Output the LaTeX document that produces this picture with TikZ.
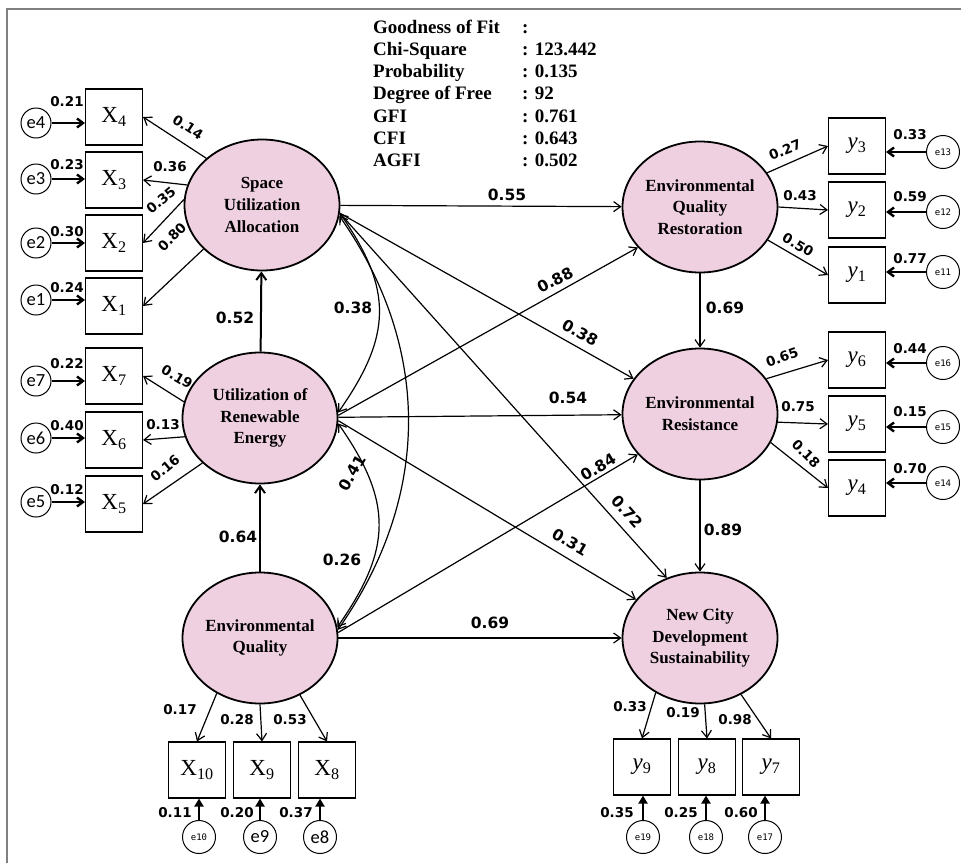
\documentclass[tikz,border=0pt]{standalone}
\usepackage{fontspec}
\setmainfont{Liberation Serif}
\newfontfamily\coeffont{DejaVu Sans}
\newfontfamily\errfont{Carlito}
\newfontfamily\errsmallfont{DejaVu Sans Mono}
\usetikzlibrary{shapes.geometric,arrows.meta}
\definecolor{latentpink}{RGB}{239,208,224}
\definecolor{framegray}{RGB}{128,128,128}
\tikzset{
  latent/.style={ellipse, draw, line width=1.8pt, fill=latentpink,
    minimum width=155pt, minimum height=131pt, inner sep=0pt, align=center,
    font=\fontsize{17}{21.7}\selectfont\bfseries},
  observed/.style={rectangle, draw, line width=1.1pt, minimum width=57pt,
    minimum height=56pt, inner sep=0pt, font=\fontsize{23}{26}\selectfont},
  errvar/.style={circle, draw, line width=1pt, minimum size=30pt, inner sep=0pt,
    font=\errfont\fontsize{18.5}{18.5}\selectfont},
  errvarsmall/.style={errvar, minimum size=33pt,
    font=\errsmallfont\fontsize{9}{9}\selectfont},
  header/.style={anchor=base west, inner sep=0pt,
    font=\fontsize{19}{22}\selectfont\bfseries},
  coef/.style={font=\coeffont\bfseries\fontsize{15.5}{15.5}\selectfont, inner sep=1pt},
  loading/.style={font=\coeffont\bfseries\fontsize{13.5}{13.5}\selectfont, inner sep=0pt},
  regpath/.style={line width=1.2pt, -{Straight Barb[length=7pt,width=10pt]}},
  heavypath/.style={regpath, line width=2pt},
  corrpath/.style={line width=1.2pt,
    {Straight Barb[length=7pt,width=10pt]}-{Straight Barb[length=7pt,width=10pt]}},
  errpath/.style={line width=2.4pt, -{Straight Barb[length=6pt,width=9pt]}},
  errup/.style={line width=2.4pt, -{Triangle[length=8pt,width=9pt]}},
}
\begin{document}
\begin{tikzpicture}[x=1pt,y=-1pt]
	\useasboundingbox (0,0) rectangle (961,863);
	% Rahmen
	\draw[framegray, line width=2pt] (7,863) -- (7,9) -- (961,9);
	% Modellguete
	\foreach \lab/\val [count=\i] in {Goodness of Fit/{}, Chi-Square/123.442,
		Probability/0.135, Degree of Free/92, GFI/0.761, CFI/0.643, AGFI/0.502}
	{
		\node[header] (fitlab\i) at (373, 11+22.2*\i) {\lab};
		\node[header] (fitval\i) at (522, 11+22.2*\i) {: \val};
	}
	% latente Variablen
	\node[latent] (SUA) at (262,205) {Space\\Utilization\\Allocation};
	\node[latent] (URE) at (260,418) {Utilization of\\Renewable\\Energy};
	\node[latent] (EQ) at (260,638) {Environmental\\Quality};
	\node[latent] (EQR) at (700,207) {Environmental\\Quality\\Restoration};
	\node[latent] (ER) at (700,414) {Environmental\\Resistance};
	\node[latent] (NCDS) at (700,638) {New City\\Development\\Sustainability};
	% Indikatoren links
	\foreach \n/\y in {4/117, 3/180, 2/243, 1/306, 7/376, 6/440, 5/504}
		\node[observed] (X\n) at (114,\y) {X\textsubscript{\n}};
	\foreach \n/\y/\v/\ly in {4/123/0.21/102, 3/179/0.23/165, 2/243/0.30/232,
		1/300/0.24/288, 7/381/0.22/364, 6/438/0.40/426, 5/502/0.12/490}
	{
		\node[errvar] (e\n) at (36,\y) {e\n};
		\draw[errpath] (e\n) -- (e\n -| X\n.west);
		\node[loading] (le\n) at (67,\ly) {\v};
	}
	% Indikatoren rechts
	\foreach \n/\y in {3/146, 2/210, 1/275, 6/360, 5/424, 4/488}
		\node[observed] (y\n) at (857,\y) {\textit{y}\textsubscript{\n}};
	\foreach \n/\e/\y/\v/\ly in {3/13/152/0.33/135, 2/12/212/0.59/197,
		1/11/272/0.77/259, 6/16/363/0.44/349, 5/15/427/0.15/412, 4/14/483/0.70/469}
	{
		\node[errvarsmall] (e\e) at (943,\y) {e\e};
		\draw[errpath] (e\e) -- (e\e -| y\n.east);
		\node[loading] (le\e) at (910,\ly) {\v};
	}
	% Indikatoren unten
	\node[observed] (X10) at (197,770) {X\textsubscript{10}};
	\node[observed] (X9) at (262,770) {X\textsubscript{9}};
	\node[observed] (X8) at (327,770) {X\textsubscript{8}};
	\node[observed] (y9) at (642,767) {\textit{y}\textsubscript{9}};
	\node[observed] (y8) at (707,767) {\textit{y}\textsubscript{8}};
	\node[observed] (y7) at (771,767) {\textit{y}\textsubscript{7}};
	\node[errvarsmall] (e10) at (199,837) {e10};
	\node[errvar, minimum size=33pt] (e9) at (260,837) {e9};
	\node[errvar, minimum size=33pt] (e8) at (320,837) {e8};
	\node[errvarsmall] (e19) at (643,837) {e19};
	\node[errvarsmall] (e18) at (706,837) {e18};
	\node[errvarsmall] (e17) at (765,837) {e17};
	\foreach \e/\b/\v/\lx in {e10/X10/0.11/175, e9/X9/0.20/237, e8/X8/0.37/296,
		e19/y9/0.35/617, e18/y8/0.25/681, e17/y7/0.60/741}
	{
		\draw[errup] (\e) -- (\e |- \b.south);
		\node[loading] (l\e) at (\lx,813) {\v};
	}
	% Ladungen
	\draw[regpath] (SUA.140) -- (X4.east);
	\draw[regpath] (SUA.165) -- (X3.east);
	\draw[regpath] (SUA.176) -- (X2.east);
	\draw[regpath] (SUA.217) -- (X1.east);
	\node[loading, rotate=-33] (lX4) at (188,127) {0.14};
	\node[loading] (lX3) at (170,167) {0.36};
	\node[loading, rotate=40] (lX2) at (161,200) {0.35};
	\node[loading, rotate=45] (lX1) at (172,237) {0.80};
	\draw[regpath] (URE.168) -- (X7.east);
	\draw[regpath] (URE.194) -- (X6.east);
	\draw[regpath] (URE.218) -- (X5.east);
	\node[loading, rotate=-30] (lX7) at (177,377) {0.19};
	\node[loading] (lX6) at (163,425) {0.13};
	\node[loading, rotate=40] (lX5) at (165,468) {0.16};
	\draw[regpath] (EQ.232) -- (X10.north);
	\draw[regpath] (EQ.270) -- (X9.north);
	\draw[regpath] (EQ.305) -- (X8.north);
	\node[loading] (lX10) at (180,710) {0.17};
	\node[loading] (lX9) at (237,720) {0.28};
	\node[loading] (lX8) at (290,720) {0.53};
	\draw[regpath] (EQR.27) -- (y3.west);
	\draw[regpath] (EQR.0) -- (y2.west);
	\draw[regpath] (EQR.334) -- (y1.west);
	\node[loading, rotate=22] (ly3) at (785,150) {0.27};
	\node[loading] (ly2) at (800,196) {0.43};
	\node[loading, rotate=-30] (ly1) at (798,245) {0.50};
	\draw[regpath] (ER.28) -- (y6.west);
	\draw[regpath] (ER.354) -- (y5.west);
	\draw[regpath] (ER.338) -- (y4.west);
	\node[loading, rotate=20] (ly6) at (782,357) {0.65};
	\node[loading] (ly5) at (798,407) {0.75};
	\node[loading, rotate=-45] (ly4) at (806,454) {0.18};
	\draw[regpath] (NCDS.231) -- (y9.north);
	\draw[regpath] (NCDS.274) -- (y8.north);
	\draw[regpath] (NCDS.306) -- (y7.north);
	\node[loading] (ly9) at (630,707) {0.33};
	\node[loading] (ly8) at (683,713) {0.19};
	\node[loading] (ly7) at (735,720) {0.98};
	% Strukturpfade
	\draw[heavypath] (URE) -- (SUA);
	\draw[heavypath] (EQ) -- (URE);
	\node[coef] (c52) at (235,318) {0.52};
	\node[coef] (c64) at (238,537) {0.64};
	\draw[regpath] (EQR) -- (ER);
	\draw[regpath] (ER) -- (NCDS);
	\node[coef] (c69b) at (725,308) {0.69};
	\node[coef] (c89) at (723,530) {0.89};
	\draw[regpath] (SUA) -- (EQR);
	\draw[regpath] (SUA.-6) -- (ER.152);
	\draw[regpath] (SUA.-6) -- (NCDS.119);
	\draw[regpath] (URE.2) -- (EQR.213);
	\draw[regpath] (URE) -- (ER);
	\draw[regpath] (URE.-2) -- (NCDS.149);
	\draw[regpath] (EQ.4) -- (ER.213);
	\draw[regpath] (EQ) -- (NCDS);
	\node[coef] (c55) at (507,195) {0.55};
	\node[coef, rotate=-29] (c38b) at (580,333) {0.38};
	\node[coef, rotate=-48] (c72) at (627,512) {0.72};
	\node[coef, rotate=28] (c88) at (555,280) {0.88};
	\node[coef] (c54) at (568,398) {0.54};
	\node[coef, rotate=-30] (c31) at (570,542) {0.31};
	\node[coef, rotate=31] (c84) at (598,467) {0.84};
	\node[coef] (c69) at (490,623) {0.69};
	% Korrelationen
	\draw[corrpath] (SUA.-6) to[out=-55, in=55, looseness=1.2] (URE.4);
	\draw[corrpath] (URE.-4) to[out=-55, in=55, looseness=1.2] (EQ.8);
	\draw[corrpath] (SUA.-8) to[out=-55, in=55, looseness=1] (EQ.6);
	\node[coef] (c38) at (353,308) {0.38};
	\node[coef, rotate=60] (c41) at (352,473) {0.41};
	\node[coef] (c26) at (342,560) {0.26};
\end{tikzpicture}
\end{document}
